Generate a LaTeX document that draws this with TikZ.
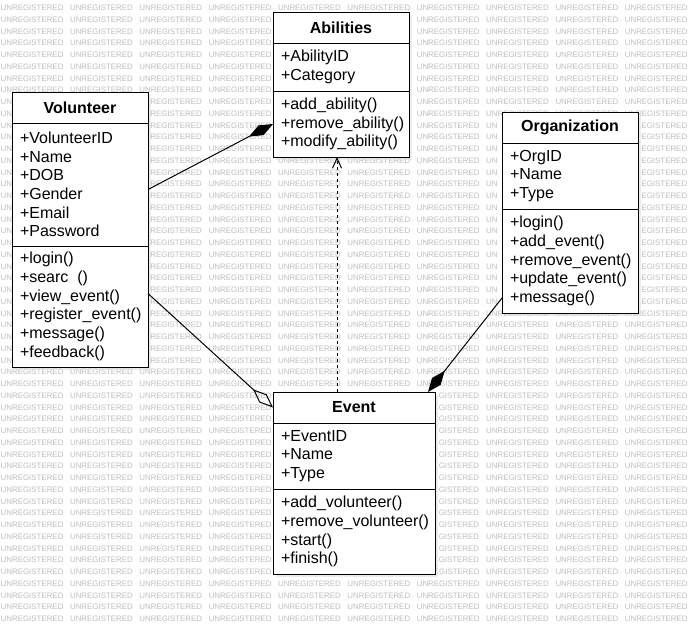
\documentclass[tikz,border=0pt]{standalone}
\usepackage{fontspec}
\setmainfont{Liberation Sans}
\usetikzlibrary{positioning,arrows.meta,shadows}

\tikzset{
  umlbox/.style={draw, fill=white, line width=1pt, outer sep=0pt, inner xsep=8pt, inner ysep=4pt,
    drop shadow={shadow xshift=3pt, shadow yshift=-3pt, fill=black!15, opacity=.5}},
  classhead/.style={umlbox, anchor=north west, text width=#1, align=center, minimum height=31pt,
    font=\bfseries\fontsize{16}{18.7}\selectfont},
  classpart/.style={umlbox, text width=#1, align=left, font=\fontsize{16}{18.7}\selectfont},
  watermark/.style={anchor=west, inner sep=0pt, text=black!26, font=\fontsize{7.9}{8}\selectfont},
  composed/.style={line width=1pt, -{Diamond[length=27pt,width=11pt]}},
  aggregated/.style={line width=1pt, -{Diamond[open,length=27pt,width=11pt]}},
  depends/.style={line width=1pt, dash pattern=on 3pt off 3pt, -{Straight Barb[length=10pt,width=9pt]}},
}

\begin{document}
\begin{tikzpicture}[x=1pt, y=-1pt]
	\useasboundingbox (0,0) rectangle (688,625);
	\foreach \r in {0,...,52}
		\foreach \c in {0,...,9} {
			\pgfmathsetmacro{\wx}{\c*69.35+0.5}
			\pgfmathsetmacro{\wy}{8+\r*11.75}
			\pgfmathtruncatemacro{\inV}{(\wy+3>98 && \wy-3<361)}
			\pgfmathtruncatemacro{\inA}{(\wy+3>18 && \wy-3<151)}
			\pgfmathtruncatemacro{\inO}{(\wy+3>118 && \wy-3<307)}
			\pgfmathtruncatemacro{\inE}{(\wy+3>398 && \wy-3<568)}
			\pgfmathtruncatemacro{\mode}{\c==0 ? 2*\inV : (\c==1 ? \inV : (\c==2 ? 3*\inV :
				((\c==4 || \c==5) ? (\inA || \inE) : (\c==6 ? 3*\inE : (\c==7 ? 2*\inO :
				(\c==8 ? \inO : (\c==9 ? 3*\inO : 0)))))))}
			\ifcase\mode
				\node[watermark] (wm-\r-\c) at (\wx,\wy) {UNREGISTERED};
			\or
			\or
				\node[watermark] (wm-\r-\c) at (\wx,\wy) {UN};
			\or
				\node[watermark, anchor=east] (wm-\r-\c) at (\wx+62.76,\wy)
					{\ifcase\c\or\or REGISTERED\or\or\or\or GISTERED\or\or\or EGISTERED\fi};
			\fi
		}

	\node[classhead=120pt] (vhead) at (12,92) {Volunteer};
	\node[classpart=120pt, minimum height=123pt, below=0pt of vhead] (vattr)
		{+VolunteerID\\+Name\\+DOB\\+Gender\\+Email\\+Password};
	\node[classpart=120pt, minimum height=121pt, below=0pt of vattr] (vmth)
		{+login()\\+searc\phantom{h}()\\+view\_event()\\+register\_event()\\+message()\\+feedback()};

	\node[classhead=120pt] (ahead) at (273,12) {Abilities};
	\node[classpart=120pt, minimum height=48pt, below=0pt of ahead] (aattr)
		{+AbilityID\\+Category};
	\node[classpart=120pt, minimum height=66pt, below=0pt of aattr] (amth)
		{+add\_ability()\\+remove\_ability()\\+modify\_ability()};

	\node[classhead=120pt] (ohead) at (502,112) {Organization};
	\node[classpart=120pt, minimum height=66pt, below=0pt of ohead] (oattr)
		{+OrgID\\+Name\\+Type};
	\node[classpart=120pt, minimum height=104pt, below=0pt of oattr] (omth)
		{+login()\\+add\_event()\\+remove\_event()\\+update\_event()\\+message()};

	\node[classhead=146pt] (ehead) at (273,392) {Event};
	\node[classpart=146pt, minimum height=66pt, below=0pt of ehead] (eattr)
		{+EventID\\+Name\\+Type};
	\node[classpart=146pt, minimum height=85pt, below=0pt of eattr] (emth)
		{+add\_volunteer()\\+remove\_volunteer()\\+start()\\+finish()};

	\draw[composed] ([yshift=-5pt]vattr.east) -- (amth.west);
	\draw[aggregated] ([yshift=13pt]vmth.east) -- (ehead.west);
	\draw[composed] ([yshift=15pt]omth.south west) -- ([xshift=-7pt]ehead.north east);
	\draw[depends] ([xshift=-4pt]amth.south |- ehead.north) -- ([xshift=-4pt]amth.south);
\end{tikzpicture}
\end{document}
